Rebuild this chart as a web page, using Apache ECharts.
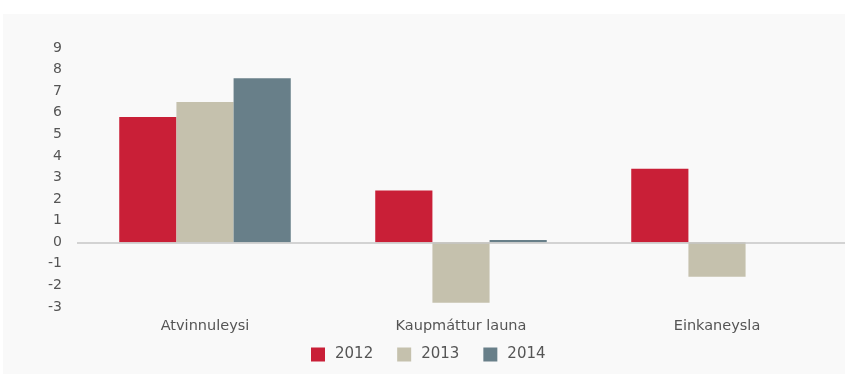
<!DOCTYPE html>
<html>
<head>
<meta charset="utf-8">
<script src="https://cdn.jsdelivr.net/npm/echarts@6/dist/echarts.min.js"></script>
<style>
  html, body { margin: 0; padding: 0; background: #ffffff; }
  #chart { width: 845px; height: 374px; }
</style>
</head>
<body>
<div id="chart"></div>
<script>
// Categories and yearly values (percentage change)
const categories = ['Atvinnuleysi', 'Kaupmáttur launa', 'Einkaneysla'];
const years = ['2012', '2013', '2014'];
const values2012 = [5.8, 2.4, 3.4];
const values2013 = [6.5, -2.8, -1.6];
const values2014 = [7.6, 0.1, null];
const yTicks = { min: -3, max: 9, step: 1 };

const colors = ['#c91f37', '#c5c1ad', '#687f89'];
const seriesValues = [values2012, values2013, values2014];
const labelFont = '"DejaVu Sans", "Noto Sans", sans-serif';

const chart = echarts.init(document.getElementById('chart'));

const series = years.map((y, i) => ({
  name: y,
  type: 'bar',
  data: seriesValues[i],
  barGap: 0,
  barCategoryGap: '33%',
  itemStyle: { color: colors[i] },
  markLine: i === 0 ? {
    silent: true,
    symbol: 'none',
    label: { show: false },
    lineStyle: { color: '#c6c6c6', width: 1.5, type: 'solid' },
    data: [{ yAxis: 0 }]
  } : undefined
}));

chart.setOption({
  animation: false,
  backgroundColor: '#ffffff',
  graphic: [{
    type: 'rect',
    z: -10,
    shape: { x: 3, y: 14, width: 845, height: 360 },
    style: { fill: '#f9f9f9' }
  }],
  color: colors,
  grid: { left: 77, width: 771, top: 48, height: 259 },
  legend: {
    data: years,
    bottom: 7,
    left: 306,
    icon: 'rect',
    itemWidth: 14,
    itemHeight: 14,
    itemGap: 24,
    textStyle: { color: '#555555', fontSize: 15, fontFamily: labelFont, padding: [0, 0, 0, 5] }
  },
  xAxis: {
    type: 'category',
    data: categories,
    position: 'bottom',
    axisLine: { show: false, onZero: false },
    axisTick: { show: false },
    axisLabel: { color: '#555555', fontSize: 14.5, fontFamily: labelFont, margin: 12 }
  },
  yAxis: {
    type: 'value',
    min: yTicks.min,
    max: yTicks.max,
    interval: yTicks.step,
    axisLine: { show: false },
    axisTick: { show: false },
    splitLine: { show: false },
    axisLabel: { color: '#555555', fontSize: 14, fontFamily: labelFont, margin: 15 }
  },
  series: series
});
</script>
</body>
</html>
